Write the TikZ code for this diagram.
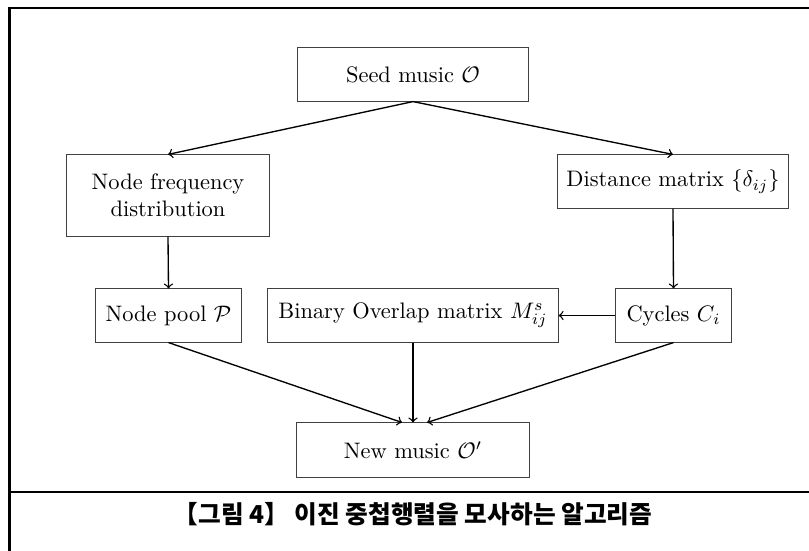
\documentclass[tikz,border=0pt]{standalone}
\usepackage{fontspec}
\newfontfamily\kr{Noto Sans CJK KR}
\tikzset{
  box/.style={draw=black!75, line width=0.45pt, minimum height=23.7pt, inner sep=3pt, align=center},
  link/.style={->, line width=0.6pt},
}
\begin{document}
\begin{tikzpicture}[x=0.446pt, y=-0.446pt]
    \useasboundingbox (0,0) rectangle (809,551);
    % 바깥 틀과 캡션 구분선
    \draw[line width=0.9pt] (815,8) -- (9.5,8) -- (9.5,560);
    \draw[line width=0.9pt] (9.5,492) -- (815,492);
    \node[font=\kr\bfseries\fontsize{11}{13}\selectfont] (cap) at (413,514) {【그림 4】 이진 중첩행렬을 모사하는 알고리즘};

    % 1. 맨 위와 둘째 줄
    \node[box, minimum width=102.7pt] (seed) at (413,74.5) {Seed music $\mathcal{O}$};
    \node[box, minimum width=90.2pt, minimum height=36.2pt] (freq) at (168,195.5) {Node frequency\\distribution};
    \node[box, minimum width=102.7pt] (dist) at (673,181.5) {Distance matrix $\{\delta_{ij}\}$};

    % 2. 셋째 줄
    \node[box, minimum width=64.7pt] (pool) at (168.5,315.5) {Node pool $\mathcal{P}$};
    \node[box, minimum width=129.5pt] (bin) at (413,315.5) {Binary Overlap matrix $M^s_{ij}$};
    \node[box, minimum width=51.3pt] (cyc) at (673.5,315.5) {Cycles $C_i$};

    % 3. 맨 아래
    \node[box, minimum width=103.6pt, minimum height=24.1pt] (new) at (413,450) {New music $\mathcal{O}'$};

    % 연결선
    \draw[link] (seed.south) -- (freq.north);
    \draw[link] (seed.south) -- (dist.north);
    \draw[link] (freq.south) -- (pool.north);
    \draw[link] (dist.south) -- (cyc.north);
    \draw[link] (cyc) -- (bin);
    \draw[link] (pool.south) -- ([xshift=-4.9pt]new.north);
    \draw[link] (bin.south) -- (new.north);
    \draw[link] (cyc.south) -- ([xshift=6.3pt]new.north);
\end{tikzpicture}
\end{document}
